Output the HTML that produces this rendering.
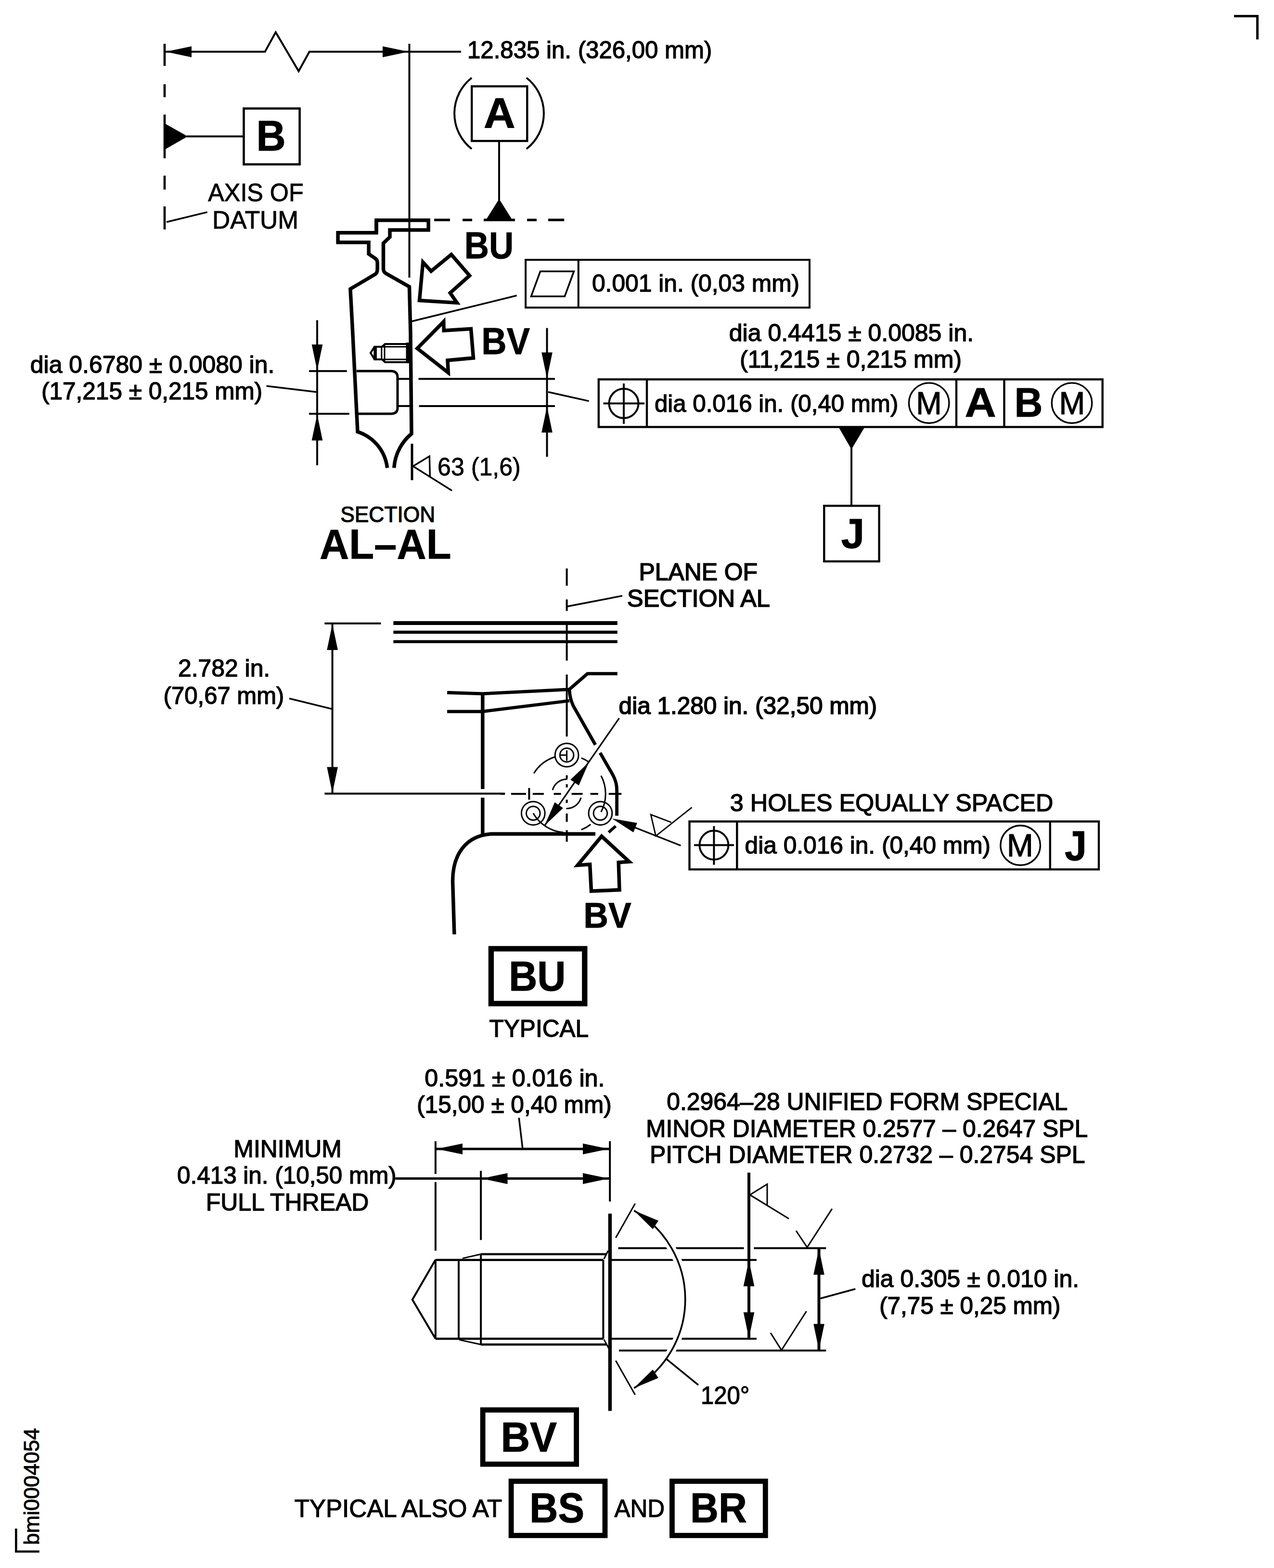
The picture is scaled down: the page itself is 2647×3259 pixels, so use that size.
<!DOCTYPE html>
<html lang="en">
<head>
<meta charset="utf-8">
<title>Section AL-AL stud detail</title>
<style>
html,body{margin:0;padding:0;background:#fff;}
body{width:2647px;height:3259px;overflow:hidden;}
svg{display:block;}
svg line,svg polyline,svg polygon,svg path,svg rect,svg circle{fill:none;stroke:#000;stroke-linecap:butt;stroke-linejoin:miter;}
svg text{font-family:"Liberation Sans",sans-serif;fill:#000;stroke:#000;}
</style>
</head>
<body>
<svg width="2647" height="3259" viewBox="0 0 2647 3259">
<rect x="0" y="0" width="2647" height="3259" style="fill:#fff;stroke:none"/>
<polyline points="2564.0,33.4 2612.5,33.4 2612.5,82.0" stroke-width="5"/>
<polyline points="33.4,3177.0 33.4,3224.7 81.8,3224.7" stroke-width="4.6"/>
<text x="79.5" y="3208.2" font-size="44.3" textLength="242.7" lengthAdjust="spacingAndGlyphs" transform="rotate(-90 81.8 3208.7)" stroke-width="1.0">bmi0004054</text>
<polyline points="344.0,107.6 550.5,107.6 572.8,67.0 620.5,148.0 642.8,107.6 958.0,107.6" stroke-width="4.0"/>
<polygon points="344.0,107.6 398.0,96.3 398.0,118.9" style="fill:#000;stroke:none"/>
<polygon points="849.0,107.6 795.0,118.9 795.0,96.3" style="fill:#000;stroke:none"/>
<text x="971.0" y="120.8" font-size="50.6" textLength="508.4" lengthAdjust="spacingAndGlyphs" stroke-width="1.4">12.835 in. (326,00 mm)</text>
<line x1="342.0" y1="91.0" x2="342.0" y2="137.0" stroke-width="4.6"/>
<line x1="342.0" y1="175.0" x2="342.0" y2="202.0" stroke-width="4.6"/>
<line x1="342.0" y1="238.0" x2="342.0" y2="329.0" stroke-width="4.6"/>
<line x1="342.0" y1="365.0" x2="342.0" y2="394.0" stroke-width="4.6"/>
<line x1="342.0" y1="429.0" x2="342.0" y2="477.0" stroke-width="4.6"/>
<polygon points="342.0,256.6 342.0,311.0 390.0,283.6" style="fill:#000;stroke:none"/>
<line x1="388.0" y1="283.6" x2="506.0" y2="283.6" stroke-width="4.0"/>
<rect x="506.5" y="225.5" width="116.1" height="116.1" stroke-width="4.6"/>
<text x="532.6" y="313.3" font-size="89.1" font-weight="bold" textLength="61.2" lengthAdjust="spacingAndGlyphs" stroke-width="1">B</text>
<text x="432.3" y="418.2" font-size="51.4" textLength="198.4" lengthAdjust="spacingAndGlyphs" stroke-width="0.9">AXIS OF</text>
<text x="441.1" y="474.6" font-size="51.4" textLength="179.0" lengthAdjust="spacingAndGlyphs" stroke-width="0.9">DATUM</text>
<line x1="346.0" y1="461.5" x2="430.7" y2="440.9" stroke-width="3.5"/>
<line x1="850.5" y1="91.0" x2="850.5" y2="577.0" stroke-width="4.0"/>
<path d="M980,161.7 A94,94 0 0 0 980,309.5" stroke-width="4.0"/>
<path d="M1094,161.7 A94,94 0 0 1 1094,309.5" stroke-width="4.0"/>
<rect x="980.2" y="179.4" width="115.1" height="113.6" stroke-width="4.4"/>
<text x="1005.0" y="266.3" font-size="89.1" font-weight="bold" textLength="65.6" lengthAdjust="spacingAndGlyphs" stroke-width="1">A</text>
<line x1="1037.0" y1="293.4" x2="1037.0" y2="416.0" stroke-width="4.0"/>
<polygon points="1037.0,413.5 1009.0,458.0 1065.0,458.0" style="fill:#000;stroke:none"/>
<line x1="902.1" y1="457.2" x2="934.9" y2="457.2" stroke-width="5.2"/>
<line x1="961.1" y1="457.2" x2="981.0" y2="457.2" stroke-width="5.2"/>
<line x1="1005.0" y1="457.2" x2="1069.9" y2="457.2" stroke-width="5.2"/>
<line x1="1095.1" y1="457.2" x2="1115.0" y2="457.2" stroke-width="5.2"/>
<line x1="1139.0" y1="457.2" x2="1172.2" y2="457.2" stroke-width="5.2"/>
<text x="964.7" y="537.2" font-size="76.9" font-weight="bold" textLength="102.5" lengthAdjust="spacingAndGlyphs" stroke-width="0.8">BU</text>
<polygon points="871.5,624.6 878.8,545.0 895.7,563.6 937.7,529.0 975.6,572.9 935.3,608.8 949.5,629.4" stroke-width="7.5"/>
<rect x="1092.1" y="540.0" width="589.9" height="99.3" stroke-width="4.0"/>
<line x1="1201.8" y1="540.0" x2="1201.8" y2="639.3" stroke-width="4.0"/>
<polygon points="1103.5,616.0 1122.6,564.0 1192.4,564.0 1173.3,616.0" stroke-width="3.6"/>
<text x="1229.9" y="606.3" font-size="50.6" textLength="431.3" lengthAdjust="spacingAndGlyphs" stroke-width="1.4">0.001 in. (0,03 mm)</text>
<line x1="855.0" y1="668.0" x2="1073.6" y2="614.3" stroke-width="3.5"/>
<polygon points="867.0,724.2 921.8,668.5 922.2,687.0 978.5,683.4 983.5,744.0 930.0,749.0 931.3,774.5" stroke-width="7.5"/>
<text x="1000.3" y="736.4" font-size="76.9" font-weight="bold" textLength="100.7" lengthAdjust="spacingAndGlyphs" stroke-width="0.8">BV</text>
<path d="M781.9,483.8 L781.9,457.8 L890.1,457.8 L890.1,477.9 L810,477.9 L810,492.7 L796.5,505.6 L796.5,559 Q797,565.5 801.7,568.2 L850.5,595.9 L852.9,690 L855,901.5 C837.4,916 821,940 818.7,972.5" stroke-width="7.5"/>
<path d="M781.9,457.8 L781.9,483.8 L702.1,483.8 L702.1,503.7 L766.1,503.7 L766.1,527.7 L780.5,537.8 Q784.1,540.5 784.1,546 L784.1,559 Q784,567.5 779.5,570.1 L727.9,600.5 L732.7,690 L743,897.4 C775,908 800,935 804.6,972.5" stroke-width="7.5"/>
<path d="M740.9,771.3 L812.5,771.3 Q826,771.3 826,784.4 L826,847.6 Q826,860 812.5,860 L745,860" stroke-width="5.0"/>
<line x1="826.0" y1="787.5" x2="851.0" y2="787.5" stroke-width="4"/>
<line x1="826.0" y1="843.9" x2="851.0" y2="843.9" stroke-width="4"/>
<polyline points="778.3,720.7 770.0,733.5 778.3,747.0" stroke-width="4.0"/>
<polyline points="849.8,714.9 800.0,714.9 793.8,720.7 778.3,720.7 778.3,747.0 793.8,747.0 800.0,752.8 849.8,752.8" stroke-width="4.0"/>
<line x1="793.8" y1="720.7" x2="845.7" y2="720.7" stroke-width="3"/>
<line x1="793.8" y1="747.0" x2="845.7" y2="747.0" stroke-width="3"/>
<line x1="781.4" y1="720.7" x2="781.4" y2="747.0" stroke-width="3"/>
<line x1="792.8" y1="720.7" x2="792.8" y2="747.0" stroke-width="3"/>
<line x1="799.0" y1="714.9" x2="799.0" y2="752.8" stroke-width="3"/>
<line x1="849.5" y1="712.0" x2="849.5" y2="755.0" stroke-width="12"/>
<line x1="869.5" y1="787.5" x2="1153.0" y2="787.5" stroke-width="4"/>
<line x1="870.6" y1="843.9" x2="1153.0" y2="843.9" stroke-width="4"/>
<line x1="1136.5" y1="681.7" x2="1136.5" y2="949.6" stroke-width="4.0"/>
<polygon points="1136.5,786.5 1125.2,732.5 1147.8,732.5" style="fill:#000;stroke:none"/>
<polygon points="1136.5,845.0 1147.8,899.0 1125.2,899.0" style="fill:#000;stroke:none"/>
<line x1="1139.0" y1="814.8" x2="1223.6" y2="833.6" stroke-width="3.5"/>
<line x1="642.0" y1="771.3" x2="720.8" y2="771.3" stroke-width="4"/>
<line x1="642.0" y1="860.0" x2="725.8" y2="860.0" stroke-width="4"/>
<line x1="659.0" y1="665.5" x2="659.0" y2="966.9" stroke-width="4.0"/>
<polygon points="659.0,770.0 647.7,716.0 670.3,716.0" style="fill:#000;stroke:none"/>
<polygon points="659.0,861.5 670.3,915.5 647.7,915.5" style="fill:#000;stroke:none"/>
<text x="62.8" y="774.5" font-size="50.6" textLength="507.5" lengthAdjust="spacingAndGlyphs" stroke-width="1.4">dia 0.6780 ± 0.0080 in.</text>
<text x="86.0" y="830.3" font-size="50.6" textLength="459.3" lengthAdjust="spacingAndGlyphs" stroke-width="1.4">(17,215 ± 0,215 mm)</text>
<line x1="553.6" y1="802.2" x2="657.3" y2="814.7" stroke-width="3.5"/>
<line x1="856.0" y1="922.3" x2="856.0" y2="998.0" stroke-width="5"/>
<polyline points="893.4,990.7 892.3,948.2 858.1,969.0 939.0,1019.7" stroke-width="3.4"/>
<text x="909.1" y="988.2" font-size="50.9" textLength="172.7" lengthAdjust="spacingAndGlyphs" stroke-width="0.8">63 (1,6)</text>
<text x="707.2" y="1085.3" font-size="45.6" textLength="197.2" lengthAdjust="spacingAndGlyphs" stroke-width="1.2">SECTION</text>
<text x="664.1" y="1161.4" font-size="87.3" font-weight="bold" textLength="273.4" lengthAdjust="spacingAndGlyphs" stroke-width="0.8">AL–AL</text>
<text x="1514.8" y="708.7" font-size="50.6" textLength="508.3" lengthAdjust="spacingAndGlyphs" stroke-width="1.4">dia 0.4415 ± 0.0085 in.</text>
<text x="1537.1" y="764.3" font-size="50.6" textLength="461.0" lengthAdjust="spacingAndGlyphs" stroke-width="1.4">(11,215 ± 0,215 mm)</text>
<rect x="1243.8" y="788.5" width="1046.9" height="99.0" stroke-width="4.4"/>
<line x1="1344.0" y1="788.5" x2="1344.0" y2="887.5" stroke-width="4.4"/>
<line x1="1987.0" y1="788.5" x2="1987.0" y2="887.5" stroke-width="4.4"/>
<line x1="2086.5" y1="788.5" x2="2086.5" y2="887.5" stroke-width="4.4"/>
<circle cx="1296.0" cy="838.6" r="30.5" stroke-width="4.0"/>
<line x1="1253.6" y1="838.6" x2="1339.1" y2="838.6" stroke-width="4.0"/>
<line x1="1296.0" y1="797.1" x2="1296.0" y2="881.0" stroke-width="4.0"/>
<text x="1359.9" y="855.6" font-size="50.6" textLength="506.4" lengthAdjust="spacingAndGlyphs" stroke-width="1.4">dia 0.016 in. (0,40 mm)</text>
<circle cx="1930.2" cy="837.7" r="41.8" stroke-width="3.4"/>
<text x="1903.3" y="861.2" font-size="66.9" textLength="53.5" lengthAdjust="spacingAndGlyphs" stroke-width="1.2">M</text>
<text x="2004.6" y="866.4" font-size="85.2" font-weight="bold" textLength="65.2" lengthAdjust="spacingAndGlyphs" stroke-width="0.8">A</text>
<text x="2107.5" y="866.4" font-size="85.2" font-weight="bold" textLength="59.0" lengthAdjust="spacingAndGlyphs" stroke-width="0.8">B</text>
<circle cx="2227.0" cy="837.7" r="41.8" stroke-width="3.4"/>
<text x="2200.5" y="861.2" font-size="66.9" textLength="53.9" lengthAdjust="spacingAndGlyphs" stroke-width="1.2">M</text>
<polygon points="1742.5,888.0 1796.4,888.0 1769.0,934.0" style="fill:#000;stroke:none"/>
<line x1="1769.0" y1="930.0" x2="1769.0" y2="1051.5" stroke-width="4.0"/>
<rect x="1712.3" y="1051.3" width="114.3" height="115.5" stroke-width="4.4"/>
<text x="1747.5" y="1139.4" font-size="86.3" font-weight="bold" textLength="48.8" lengthAdjust="spacingAndGlyphs" stroke-width="0.8">J</text>
<text x="1327.6" y="1205.8" font-size="50.2" textLength="246.4" lengthAdjust="spacingAndGlyphs" stroke-width="1.7">PLANE OF</text>
<text x="1303.1" y="1261.2" font-size="50.2" textLength="296.8" lengthAdjust="spacingAndGlyphs" stroke-width="1.7">SECTION AL</text>
<line x1="1177.0" y1="1260.8" x2="1293.0" y2="1238.4" stroke-width="3.5"/>
<line x1="1177.6" y1="1181.5" x2="1177.6" y2="1217.4" stroke-width="4"/>
<line x1="1177.6" y1="1245.8" x2="1177.6" y2="1269.8" stroke-width="4"/>
<line x1="1177.6" y1="1298.3" x2="1177.6" y2="1373.0" stroke-width="4"/>
<line x1="1177.6" y1="1402.0" x2="1177.6" y2="1530.7" stroke-width="4"/>
<text x="370.0" y="1406.2" font-size="50.6" textLength="191.2" lengthAdjust="spacingAndGlyphs" stroke-width="1.4">2.782 in.</text>
<text x="339.6" y="1462.9" font-size="50.6" textLength="250.8" lengthAdjust="spacingAndGlyphs" stroke-width="1.4">(70,67 mm)</text>
<line x1="601.1" y1="1451.8" x2="690.0" y2="1473.6" stroke-width="3.5"/>
<line x1="690.6" y1="1295.7" x2="690.6" y2="1649.4" stroke-width="4.0"/>
<polygon points="690.6,1297.0 701.9,1351.0 679.3,1351.0" style="fill:#000;stroke:none"/>
<polygon points="690.6,1648.3 679.3,1594.3 701.9,1594.3" style="fill:#000;stroke:none"/>
<line x1="674.4" y1="1295.7" x2="791.4" y2="1295.7" stroke-width="4"/>
<line x1="674.4" y1="1649.4" x2="1049.0" y2="1649.4" stroke-width="4"/>
<line x1="817.3" y1="1295.0" x2="1282.8" y2="1295.0" stroke-width="8"/>
<line x1="817.3" y1="1314.0" x2="1282.8" y2="1314.0" stroke-width="6.3"/>
<line x1="817.3" y1="1333.7" x2="1282.8" y2="1333.7" stroke-width="6.3"/>
<polyline points="929.1,1439.5 1002.8,1441.8 1182.9,1432.9 1220.6,1400.2 1282.8,1400.2" stroke-width="6.8"/>
<polyline points="929.1,1478.8 1002.8,1478.8 1182.9,1456.5" stroke-width="6.8"/>
<path d="M1182.9,1432.9 Q1184,1452 1191,1467 L1237,1548" stroke-width="6.8"/>
<path d="M1246.8,1564.6 L1273.5,1611 Q1281.6,1626 1281.6,1642 L1281.6,1695.6" stroke-width="6.8"/>
<line x1="1002.8" y1="1441.8" x2="1002.8" y2="1639.9" stroke-width="7.5"/>
<line x1="1002.8" y1="1657.9" x2="1002.8" y2="1735.0" stroke-width="7.5"/>
<path d="M1237,1733.2 L1020.8,1733.2 C966,1737 940,1778 940.6,1833 L943.9,1942" stroke-width="7.5"/>
<line x1="1040.0" y1="1650.0" x2="1049.2" y2="1650.0" stroke-width="4"/>
<line x1="1061.9" y1="1650.0" x2="1093.0" y2="1650.0" stroke-width="4"/>
<line x1="1106.8" y1="1650.0" x2="1129.9" y2="1650.0" stroke-width="4"/>
<line x1="1150.6" y1="1650.0" x2="1165.6" y2="1650.0" stroke-width="4"/>
<line x1="1187.5" y1="1650.0" x2="1210.5" y2="1650.0" stroke-width="4"/>
<line x1="1226.6" y1="1650.0" x2="1242.8" y2="1650.0" stroke-width="4"/>
<line x1="1264.7" y1="1650.0" x2="1291.2" y2="1650.0" stroke-width="4"/>
<line x1="1177.6" y1="1611.3" x2="1177.6" y2="1618.2" stroke-width="4"/>
<line x1="1177.6" y1="1629.8" x2="1177.6" y2="1636.7" stroke-width="4"/>
<line x1="1177.6" y1="1662.0" x2="1177.6" y2="1668.9" stroke-width="4"/>
<line x1="1177.6" y1="1690.8" x2="1177.6" y2="1708.1" stroke-width="4"/>
<line x1="1177.6" y1="1725.4" x2="1177.6" y2="1749.6" stroke-width="4"/>
<line x1="1099.4" y1="1637.8" x2="1099.4" y2="1662.0" stroke-width="4"/>
<circle cx="1177.6" cy="1569.4" r="24.4" stroke-width="3"/>
<circle cx="1177.6" cy="1569.4" r="14.3" stroke-width="3"/>
<circle cx="1107.8" cy="1690.3" r="24.4" stroke-width="3"/>
<circle cx="1107.8" cy="1690.3" r="14.3" stroke-width="3"/>
<circle cx="1247.4" cy="1690.3" r="24.4" stroke-width="3"/>
<circle cx="1247.4" cy="1690.3" r="14.3" stroke-width="3"/>
<line x1="1177.6" y1="1559.5" x2="1177.6" y2="1581.4" stroke-width="3"/>
<line x1="1164.4" y1="1569.4" x2="1177.6" y2="1569.4" stroke-width="3"/>
<path d="M1109.2,1607.3 A80.6,80.6 0 0 1 1152.7,1573.3" stroke-width="3"/>
<path d="M1207.8,1575.3 A80.6,80.6 0 0 1 1223.8,1584.0" stroke-width="3"/>
<path d="M1248.8,1612.2 A80.6,80.6 0 0 1 1248.8,1687.8" stroke-width="3"/>
<path d="M1227.2,1713.5 A80.6,80.6 0 0 1 1207.8,1724.7" stroke-width="3"/>
<path d="M1170.6,1730.3 A80.6,80.6 0 0 1 1107.8,1690.3" stroke-width="3"/>
<path d="M1148.1,1642.1 A30.5,30.5 0 0 1 1178.7,1619.5" stroke-width="3"/>
<path d="M1207.1,1657.9 A30.5,30.5 0 0 1 1176.5,1680.5" stroke-width="3"/>
<line x1="1286.5" y1="1492.7" x2="1131.5" y2="1716.1" stroke-width="3.2"/>
<polygon points="1223.7,1583.9 1202.6,1632.5 1185.3,1620.5" style="fill:#000;stroke:none"/>
<polygon points="1131.5,1716.1 1152.6,1667.5 1169.9,1679.5" style="fill:#000;stroke:none"/>
<text x="1285.6" y="1484.4" font-size="49.6" textLength="536.6" lengthAdjust="spacingAndGlyphs" stroke-width="1.7">dia 1.280 in. (32,50 mm)</text>
<line x1="1414.4" y1="1757.6" x2="1280.0" y2="1704.5" stroke-width="3.2"/>
<polygon points="1271.6,1701.2 1323.8,1710.5 1316.1,1730.1" style="fill:#000;stroke:none"/>
<polyline points="1394.8,1709.3 1352.2,1693.1 1362.6,1737.6 1437.5,1678.2" stroke-width="2.8"/>
<line x1="1264.7" y1="1730.0" x2="1279.2" y2="1716.9" stroke-width="6"/>
<polygon points="1250.0,1738.2 1200.0,1798.4 1225.6,1796.6 1228.5,1852.0 1287.0,1849.6 1285.2,1792.6 1307.3,1791.0" stroke-width="7.5"/>
<text x="1212.3" y="1927.6" font-size="73.8" font-weight="bold" textLength="99.4" lengthAdjust="spacingAndGlyphs" stroke-width="0.8">BV</text>
<text x="1516.8" y="1685.5" font-size="50.0" textLength="671.7" lengthAdjust="spacingAndGlyphs" stroke-width="1.4">3 HOLES EQUALLY SPACED</text>
<rect x="1432.5" y="1707.4" width="850.5" height="99.6" stroke-width="4.4"/>
<line x1="1531.3" y1="1707.4" x2="1531.3" y2="1807.0" stroke-width="4.4"/>
<line x1="2181.8" y1="1707.4" x2="2181.8" y2="1807.0" stroke-width="4.4"/>
<circle cx="1483.4" cy="1756.6" r="30.0" stroke-width="4.0"/>
<line x1="1442.0" y1="1756.6" x2="1525.0" y2="1756.6" stroke-width="4.0"/>
<line x1="1483.4" y1="1717.0" x2="1483.4" y2="1797.5" stroke-width="4.0"/>
<text x="1547.6" y="1773.8" font-size="50.6" textLength="510.5" lengthAdjust="spacingAndGlyphs" stroke-width="1.4">dia 0.016 in. (0,40 mm)</text>
<circle cx="2120.1" cy="1757.0" r="41.3" stroke-width="3.4"/>
<text x="2091.8" y="1780.3" font-size="66.9" textLength="55.2" lengthAdjust="spacingAndGlyphs" stroke-width="1.2">M</text>
<text x="2212.1" y="1787.6" font-size="87.3" font-weight="bold" textLength="46.1" lengthAdjust="spacingAndGlyphs" stroke-width="0.8">J</text>
<rect x="1020.4" y="1971.9" width="194.4" height="114.0" stroke-width="11.3"/>
<text x="1057.2" y="2059.3" font-size="88.0" font-weight="bold" textLength="118.2" lengthAdjust="spacingAndGlyphs" stroke-width="1">BU</text>
<text x="1016.6" y="2154.9" font-size="50.6" textLength="206.4" lengthAdjust="spacingAndGlyphs" stroke-width="1.4">TYPICAL</text>
<text x="882.3" y="2257.7" font-size="50.6" textLength="374.2" lengthAdjust="spacingAndGlyphs" stroke-width="1.4">0.591 ± 0.016 in.</text>
<text x="866.1" y="2312.7" font-size="49.5" textLength="404.6" lengthAdjust="spacingAndGlyphs" stroke-width="1.4">(15,00 ± 0,40 mm)</text>
<line x1="1078.2" y1="2323.3" x2="1085.8" y2="2386.7" stroke-width="3.5"/>
<line x1="905.2" y1="2388.0" x2="1266.4" y2="2388.0" stroke-width="5"/>
<polygon points="907.0,2388.0 961.0,2376.7 961.0,2399.3" style="fill:#000;stroke:none"/>
<polygon points="1265.0,2388.0 1211.0,2399.3 1211.0,2376.7" style="fill:#000;stroke:none"/>
<line x1="821.4" y1="2449.6" x2="1266.4" y2="2449.6" stroke-width="5"/>
<polygon points="1000.5,2449.6 1054.5,2438.3 1054.5,2460.9" style="fill:#000;stroke:none"/>
<polygon points="1265.0,2449.6 1211.0,2460.9 1211.0,2438.3" style="fill:#000;stroke:none"/>
<line x1="904.9" y1="2372.0" x2="904.9" y2="2440.0" stroke-width="4"/>
<line x1="904.9" y1="2456.7" x2="904.9" y2="2599.5" stroke-width="4"/>
<line x1="999.1" y1="2433.5" x2="999.1" y2="2577.3" stroke-width="4"/>
<line x1="1267.2" y1="2372.0" x2="1267.2" y2="2497.3" stroke-width="4"/>
<text x="485.3" y="2404.9" font-size="50.6" textLength="224.6" lengthAdjust="spacingAndGlyphs" stroke-width="1.4">MINIMUM</text>
<text x="368.0" y="2460.2" font-size="50.6" textLength="455.8" lengthAdjust="spacingAndGlyphs" stroke-width="1.4">0.413 in. (10,50 mm)</text>
<text x="427.7" y="2515.5" font-size="50.6" textLength="338.7" lengthAdjust="spacingAndGlyphs" stroke-width="1.4">FULL THREAD</text>
<text x="1385.3" y="2307.1" font-size="50.6" textLength="832.9" lengthAdjust="spacingAndGlyphs" stroke-width="1.4">0.2964–28 UNIFIED FORM SPECIAL</text>
<text x="1342.1" y="2362.5" font-size="50.6" textLength="918.0" lengthAdjust="spacingAndGlyphs" stroke-width="1.4">MINOR DIAMETER 0.2577 – 0.2647 SPL</text>
<text x="1349.9" y="2416.5" font-size="50.6" textLength="904.7" lengthAdjust="spacingAndGlyphs" stroke-width="1.4">PITCH DIAMETER 0.2732 – 0.2754 SPL</text>
<polyline points="904.9,2618.2 856.8,2701.2 904.9,2782.4" stroke-width="4"/>
<line x1="904.9" y1="2618.2" x2="904.9" y2="2782.4" stroke-width="4"/>
<line x1="953.0" y1="2618.2" x2="953.0" y2="2783.5" stroke-width="4"/>
<line x1="999.1" y1="2606.7" x2="999.1" y2="2795.4" stroke-width="4"/>
<line x1="1253.4" y1="2618.8" x2="1253.4" y2="2782.4" stroke-width="4"/>
<line x1="904.9" y1="2618.8" x2="1253.4" y2="2618.8" stroke-width="4.5"/>
<line x1="999.1" y1="2606.7" x2="1260.6" y2="2606.7" stroke-width="4.5"/>
<line x1="904.9" y1="2782.4" x2="1253.4" y2="2782.4" stroke-width="4.5"/>
<line x1="999.1" y1="2794.5" x2="1260.6" y2="2794.5" stroke-width="4.5"/>
<line x1="961.0" y1="2615.4" x2="999.1" y2="2606.7" stroke-width="3"/>
<line x1="954.0" y1="2784.6" x2="999.1" y2="2794.5" stroke-width="3"/>
<line x1="1254.8" y1="2616.8" x2="1263.5" y2="2599.5" stroke-width="3"/>
<line x1="1254.8" y1="2783.9" x2="1264.9" y2="2802.6" stroke-width="3"/>
<line x1="1267.4" y1="2522.6" x2="1267.4" y2="2932.4" stroke-width="7.4"/>
<line x1="1270.0" y1="2618.8" x2="1572.0" y2="2618.8" stroke-width="4"/>
<line x1="1270.0" y1="2782.4" x2="1572.0" y2="2782.4" stroke-width="4"/>
<line x1="1284.5" y1="2594.3" x2="1545.6" y2="2594.3" stroke-width="4"/>
<line x1="1566.4" y1="2594.3" x2="1716.3" y2="2594.3" stroke-width="4"/>
<line x1="1286.0" y1="2806.9" x2="1716.3" y2="2806.9" stroke-width="4"/>
<line x1="1279.3" y1="2572.7" x2="1319.6" y2="2501.6" stroke-width="3"/>
<line x1="1279.3" y1="2828.0" x2="1319.6" y2="2899.0" stroke-width="3"/>
<path d="M1373.9,2563.7 A213,213 0 0 1 1373.9,2837.5" style="stroke:#fff" stroke-width="17"/>
<path d="M1317.2,2516.1 A213,213 0 0 1 1317.2,2885.1" stroke-width="3.6"/>
<polygon points="1317.2,2516.1 1368.0,2537.2 1356.4,2554.7" style="fill:#000;stroke:none"/>
<polygon points="1317.2,2885.1 1356.4,2846.5 1368.0,2864.0" style="fill:#000;stroke:none"/>
<line x1="1385.2" y1="2825.2" x2="1450.9" y2="2878.7" stroke-width="3.6"/>
<text x="1455.9" y="2917.9" font-size="50.9" textLength="101.5" lengthAdjust="spacingAndGlyphs" stroke-width="1.2">120°</text>
<line x1="1556.0" y1="2437.3" x2="1556.0" y2="2780.6" stroke-width="6"/>
<polygon points="1556.0,2619.6 1567.3,2673.6 1544.7,2673.6" style="fill:#000;stroke:none"/>
<polygon points="1556.0,2781.6 1544.7,2727.6 1567.3,2727.6" style="fill:#000;stroke:none"/>
<polyline points="1594.0,2504.0 1594.0,2461.3 1558.0,2483.4 1639.0,2533.0" stroke-width="3"/>
<line x1="1701.5" y1="2594.3" x2="1701.5" y2="2806.9" stroke-width="6"/>
<polygon points="1701.5,2595.4 1712.8,2649.4 1690.2,2649.4" style="fill:#000;stroke:none"/>
<polygon points="1701.5,2805.8 1690.2,2751.8 1712.8,2751.8" style="fill:#000;stroke:none"/>
<polyline points="1654.0,2558.0 1677.0,2592.6 1728.8,2512.4" stroke-width="3"/>
<polyline points="1601.0,2770.3 1623.7,2806.2 1675.6,2725.3" stroke-width="3"/>
<line x1="1704.6" y1="2698.8" x2="1777.2" y2="2679.0" stroke-width="3.5"/>
<text x="1789.9" y="2674.7" font-size="50.6" textLength="452.2" lengthAdjust="spacingAndGlyphs" stroke-width="1.4">dia 0.305 ± 0.010 in.</text>
<text x="1826.9" y="2731.3" font-size="50.6" textLength="376.6" lengthAdjust="spacingAndGlyphs" stroke-width="1.4">(7,75 ± 0,25 mm)</text>
<rect x="1003.1" y="2930.5" width="194.5" height="112.7" stroke-width="10.8"/>
<text x="1040.5" y="3016.7" font-size="87.0" font-weight="bold" textLength="116.6" lengthAdjust="spacingAndGlyphs" stroke-width="1">BV</text>
<rect x="1062.1" y="3078.7" width="194.9" height="112.7" stroke-width="10.8"/>
<text x="1100.3" y="3164.2" font-size="87.0" font-weight="bold" textLength="113.9" lengthAdjust="spacingAndGlyphs" stroke-width="1">BS</text>
<rect x="1396.4" y="3078.7" width="193.9" height="112.7" stroke-width="10.8"/>
<text x="1434.0" y="3164.2" font-size="87.0" font-weight="bold" textLength="117.8" lengthAdjust="spacingAndGlyphs" stroke-width="1">BR</text>
<text x="611.7" y="3152.6" font-size="50.9" textLength="431.6" lengthAdjust="spacingAndGlyphs" stroke-width="1.2">TYPICAL ALSO AT</text>
<text x="1276.5" y="3152.6" font-size="50.9" textLength="104.6" lengthAdjust="spacingAndGlyphs" stroke-width="1.2">AND</text>
</svg>
</body>
</html>
